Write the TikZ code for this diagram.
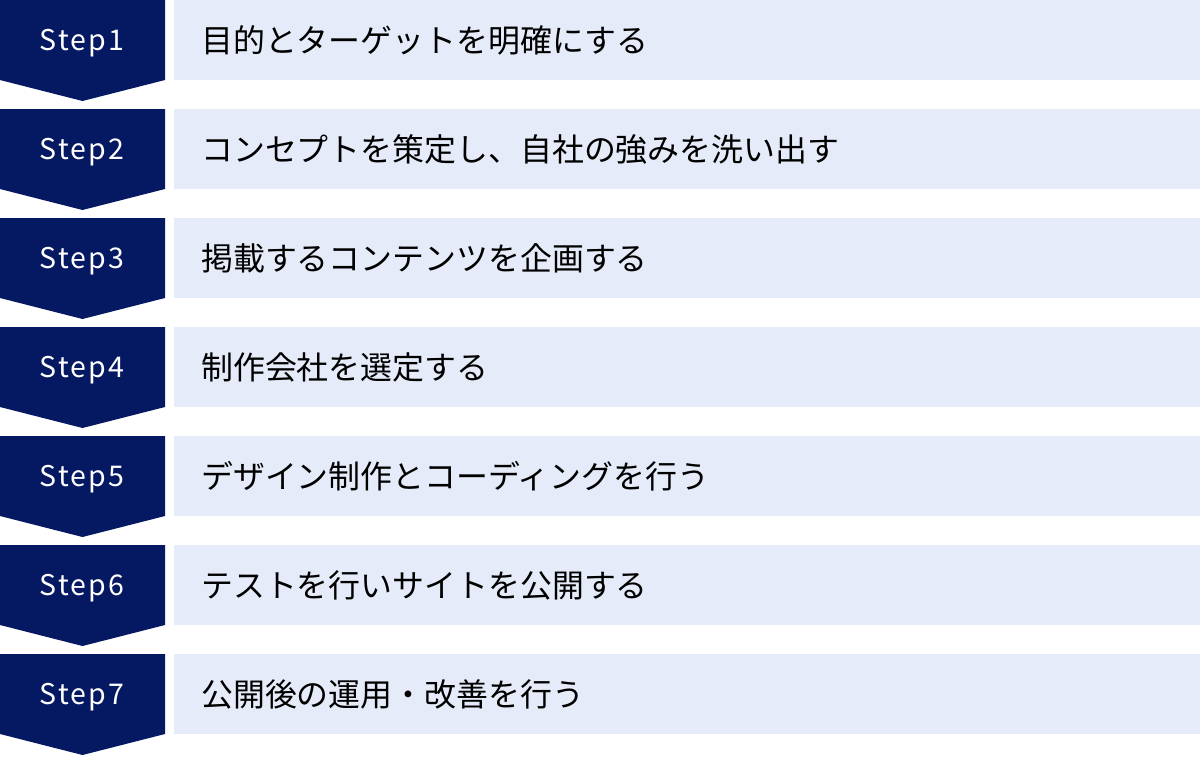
\documentclass[tikz,border=0pt]{standalone}
\usepackage{fontspec}
\setmainfont{Noto Sans CJK JP}
\newfontfamily\jp{Noto Sans CJK JP}
\newfontfamily\steptext[LetterSpace=8]{Noto Sans CJK JP}
\definecolor{navy}{HTML}{051862}
\definecolor{pale}{HTML}{E5EBF8}
\begin{document}
\begin{tikzpicture}[x=1pt,y=-1pt,
  steplabel/.style={text=white,font=\steptext\fontsize{28.5}{29}\selectfont,anchor=center},
  desctext/.style={text=black,font=\jp\fontsize{31.9}{32}\selectfont,anchor=west,inner sep=0pt}]
\useasboundingbox (0,0) rectangle (1200,756);
\foreach \i/\txt in {0/目的とターゲットを明確にする,1/コンセプトを策定し、自社の強みを洗い出す,2/掲載するコンテンツを企画する,3/制作会社を選定する,4/デザイン制作とコーディングを行う,5/テストを行いサイトを公開する,6/公開後の運用・改善を行う}{
  \pgfmathsetmacro{\t}{109*\i}
  \fill[navy] (0,\t) -- (165,\t) -- (165,\t+80) -- (82.5,\t+101) -- (0,\t+80) -- cycle;
  \fill[pale] (174,\t) rectangle (1200,\t+80);
  \pgfmathtruncatemacro{\n}{\i+1}
  \node[steplabel] (s\n) at (82,\t+43) {Step\n};
  \node[desctext] (d\n) at (201,\t+40) {\txt};
}
\end{tikzpicture}
\end{document}
